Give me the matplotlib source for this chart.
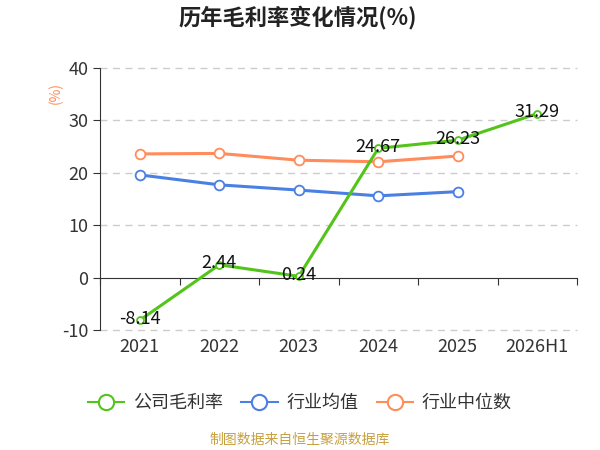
import matplotlib
matplotlib.use('Agg')
import matplotlib.pyplot as plt
from matplotlib.lines import Line2D

plt.rcParams['font.family'] = ['Noto Sans CJK SC', 'DejaVu Sans']
plt.rcParams['axes.unicode_minus'] = False

years = ['2021', '2022', '2023', '2024', '2025', '2026H1']
company = [-8.14, 2.44, 0.24, 24.67, 26.23, 31.29]
ind_avg = [19.6, 17.7, 16.7, 15.6, 16.4]
ind_median = [23.6, 23.7, 22.4, 22.1, 23.2]
names = ['公司毛利率', '行业均值', '行业中位数']

green = '#52c41a'
blue = '#4a7fe3'
orange = '#ff8c5a'
colors = [green, blue, orange]

fig = plt.figure(figsize=(6, 4.5), dpi=100)
ax = fig.add_axes([0.1667, 0.2667, 0.795, 0.5822])

x = list(range(len(years)))
ax.plot(x, company, color=green, lw=2.2, marker='o', ms=5, mfc='white', mec=green, mew=1.3,
        zorder=4)
ax.plot(x[:len(ind_avg)], ind_avg, color=blue, lw=2.2, marker='o', ms=7, mfc='white', mec=blue,
        mew=1.3, zorder=3)
ax.plot(x[:len(ind_median)], ind_median, color=orange, lw=2.2, marker='o', ms=7, mfc='white',
        mec=orange, mew=1.3, zorder=3)

for xi, v in zip(x, company):
    ax.annotate(f'{v:.2f}', (xi, v), xytext=(0, 1), textcoords='offset points',
                ha='center', va='center', fontsize=13, color='#111111', zorder=5)

ax.set_xlim(-0.5, 5.5)
ax.set_ylim(-10, 40)
ax.set_yticks([-10, 0, 10, 20, 30, 40])
for yv in [-10, 10, 20, 30, 40]:
    ax.axhline(yv, color='#cccccc', lw=1, ls=(0, (5, 4)), zorder=1, clip_on=False)

ax.spines['top'].set_visible(False)
ax.spines['right'].set_visible(False)
ax.spines['bottom'].set_position(('data', 0))
ax.spines['bottom'].set_color('#333333')
ax.spines['left'].set_color('#333333')

ax.set_xticks([i + 0.5 for i in range(-1, len(years))])
ax.set_xticklabels([])
ax.set_xticks(x, minor=True)
ax.set_xticklabels(years, minor=True)
ax.tick_params(axis='x', which='major', length=5, color='#333333', direction='out')
ax.tick_params(axis='x', which='minor', length=0, labelsize=13, labelcolor='#333333', pad=0)
ax.tick_params(axis='y', length=5, color='#333333', labelsize=13, labelcolor='#333333')

# category labels sit below the plot area, not under the zero line
for t in ax.xaxis.get_minor_ticks():
    t.label1.set_transform(ax.get_xaxis_transform())
    t.label1.set_y(-0.03)
    t.label1.set_va('top')

fig.text(0.497, 0.962, '历年毛利率变化情况(%)', ha='center', va='center', fontsize=16,
         fontweight='bold', color='#222222')
fig.text(0.092, 0.793, '(%)', ha='center', va='center', fontsize=10, color=orange, rotation=90)

handles = [Line2D([], [], color=c, lw=1.5, marker='o', ms=11, mfc='white', mec=c, mew=1.5)
           for c in colors]
fig.legend(handles, names, loc='center', bbox_to_anchor=(0.5, 1 - 403 / 450), ncol=3,
           frameon=False, fontsize=13, handlelength=2.0, handletextpad=0.5,
           columnspacing=1.0, labelcolor='#333333')

fig.text(0.5, 0.022, '制图数据来自恒生聚源数据库', ha='center', va='center', fontsize=10,
         color='#c8a040')

fig.savefig('out.png', dpi=100)
